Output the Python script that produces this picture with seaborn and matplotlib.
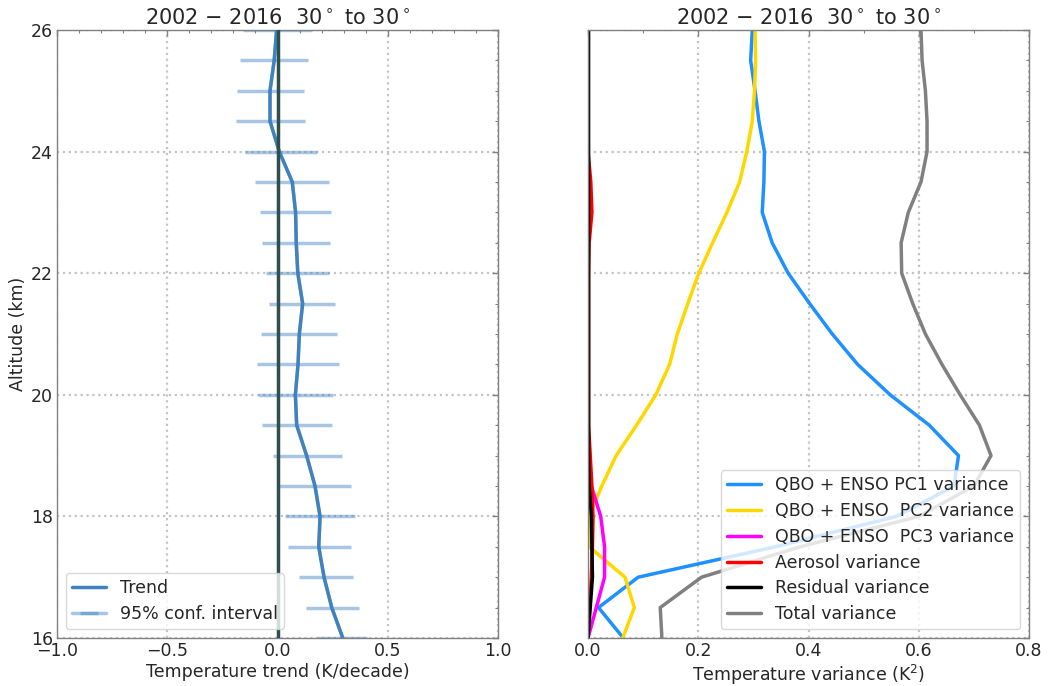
import matplotlib
matplotlib.use("Agg")
import matplotlib.pyplot as plt
from matplotlib.ticker import MultipleLocator
import numpy as np
import pandas as pd
import seaborn as sns

# Altitude levels (km)
altitude = [16.0, 16.5, 17.0, 17.5, 18.0, 18.5, 19.0, 19.5, 20.0, 20.5, 21.0,
            21.5, 22.0, 22.5, 23.0, 23.5, 24.0, 24.5, 25.0, 25.5, 26.0]

# Temperature trend (K/decade) and its 95% confidence bounds
trend = [0.296, 0.246, 0.211, 0.187, 0.193, 0.170, 0.132, 0.087, 0.081, 0.093, 0.099,
         0.114, 0.092, 0.085, 0.082, 0.067, 0.008, -0.034, -0.034, -0.015, -0.004]
ci_low = [0.178, 0.129, 0.096, 0.048, 0.034, 0.008, -0.022, -0.069, -0.087, -0.092, -0.073,
          -0.037, -0.052, -0.070, -0.079, -0.100, -0.146, -0.187, -0.182, -0.170, -0.155]
ci_high = [0.405, 0.368, 0.341, 0.332, 0.351, 0.335, 0.294, 0.249, 0.252, 0.280, 0.270,
           0.262, 0.235, 0.240, 0.244, 0.232, 0.179, 0.123, 0.120, 0.137, 0.155]

# Temperature variance (K^2) explained by each regression term
var_pc1 = [0.064, 0.019, 0.091, 0.340, 0.560, 0.664, 0.672, 0.619, 0.548, 0.489, 0.443,
           0.402, 0.363, 0.334, 0.316, 0.319, 0.320, 0.310, 0.303, 0.295, 0.298]
var_pc2 = [0.063, 0.084, 0.067, 0.002, 0.002, 0.025, 0.051, 0.088, 0.123, 0.148, 0.162,
           0.181, 0.201, 0.226, 0.252, 0.275, 0.288, 0.298, 0.302, 0.304, 0.303]
var_pc3 = [0.000, 0.015, 0.030, 0.030, 0.023, 0.006, 0.002, 0.000, 0.000, 0.000, 0.000,
           0.000, 0.000, 0.000, 0.000, 0.000, 0.000, 0.000, 0.000, 0.000, 0.000]
var_aerosol = [0.000, 0.003, 0.006, 0.008, 0.009, 0.007, 0.004, 0.001, 0.001, 0.001, 0.001,
               0.001, 0.001, 0.002, 0.007, 0.005, 0.000, 0.000, 0.000, 0.000, 0.000]
var_residual = [0.000, 0.004, 0.008, 0.007, 0.006, 0.002, 0.001, 0.001, 0.001, 0.001, 0.001,
                0.001, 0.001, 0.001, 0.001, 0.001, 0.001, 0.001, 0.001, 0.001, 0.001]
var_total = [0.134, 0.131, 0.206, 0.385, 0.600, 0.700, 0.731, 0.710, 0.675, 0.642, 0.612,
             0.589, 0.569, 0.568, 0.581, 0.604, 0.615, 0.615, 0.612, 0.606, 0.604]

var_labels = ["QBO + ENSO PC1 variance", "QBO + ENSO  PC2 variance",
              "QBO + ENSO  PC3 variance", "Aerosol variance",
              "Residual variance", "Total variance"]
var_colors = ["#1E90FF", "#FFD700", "#FF00FF", "#FF0000", "#000000", "#808080"]

title = "2002 $-$ 2016  30$^\\circ$ to 30$^\\circ$"

sns.set_style("white")
plt.rcParams["font.family"] = ["DejaVu Sans"]
plt.rcParams["text.color"] = "#262626"
plt.rcParams["axes.labelcolor"] = "#262626"
plt.rcParams["xtick.color"] = "#262626"
plt.rcParams["ytick.color"] = "#262626"

fig = plt.figure(figsize=(10.48, 6.86), dpi=100)
ax1 = fig.add_axes([0.0544, 0.070, 0.4208, 0.8863])
ax2 = fig.add_axes([0.5611, 0.070, 0.4208, 0.8863], sharey=ax1)

trend_color = "#3F82BD"

# Left panel: trend profile with confidence interval
ax1.errorbar(trend, altitude,
             xerr=[np.subtract(trend, ci_low), np.subtract(ci_high, trend)],
             color=trend_color, alpha=0.45, lw=2.5, elinewidth=2.5, capsize=0,
             label="95% conf. interval", zorder=2)
df_trend = pd.DataFrame({"trend": trend, "altitude": altitude})
sns.lineplot(data=df_trend, x="trend", y="altitude", orient="y", sort=False,
             color=trend_color, lw=2.5, label="Trend", ax=ax1, zorder=3)
ax1.axvline(0.0, color="#2F4F4F", lw=2.5, zorder=4)

ax1.set_xlim(-1.0, 1.0)
ax1.set_ylim(16, 26)
ax1.xaxis.set_major_locator(MultipleLocator(0.5))
ax1.xaxis.set_minor_locator(MultipleLocator(0.1))
ax1.set_xlabel("Temperature trend (K/decade)", fontsize=12.5, labelpad=2)
ax1.set_ylabel("Altitude (km)", fontsize=12.5, labelpad=3)
ax1.set_title(title, fontsize=15, pad=4)
h, l = ax1.get_legend_handles_labels()
order = [l.index("Trend"), l.index("95% conf. interval")]
ax1.legend([h[i] for i in order], [l[i] for i in order], loc="lower left",
           fontsize=12.5, frameon=True, framealpha=0.8, edgecolor="#d0d0d0",
           handlelength=2.0, borderpad=0.35, labelspacing=0.45)

# Right panel: variance profiles
series = [var_pc1, var_pc2, var_pc3, var_aerosol, var_residual, var_total]
for vals, lab, col in zip(series, var_labels, var_colors):
    df = pd.DataFrame({"variance": vals, "altitude": altitude})
    sns.lineplot(data=df, x="variance", y="altitude", orient="y", sort=False,
                 color=col, lw=2.5, label=lab, ax=ax2)

ax2.set_xlim(0.0, 0.8)
ax2.xaxis.set_major_locator(MultipleLocator(0.2))
ax2.xaxis.set_minor_locator(MultipleLocator(0.1))
ax2.set_xlabel("Temperature variance (K$^2$)", fontsize=12.5, labelpad=2)
ax2.set_ylabel("")
ax2.tick_params(labelleft=False)
ax2.set_title(title, fontsize=15, pad=4)
ax2.legend(loc="lower right", fontsize=12.5, frameon=True, framealpha=0.8,
           edgecolor="#d0d0d0", handlelength=2.0, borderpad=0.35,
           labelspacing=0.45)

for ax in (ax1, ax2):
    ax.yaxis.set_major_locator(MultipleLocator(2))
    ax.yaxis.set_minor_locator(MultipleLocator(0.5))
    ax.tick_params(which="both", direction="in", top=True, right=True,
                   labelsize=12.5, pad=3)
    ax.tick_params(which="major", length=4, width=1, color="#808080")
    ax.tick_params(which="minor", length=2.5, width=0.8, color="#808080")
    ax.grid(True, which="major", linestyle=":", color="#c4c4c4", lw=1.6)
    ax.set_axisbelow(True)
    for sp in ax.spines.values():
        sp.set_color("#808080")
        sp.set_linewidth(1.0)
ax1.tick_params(labelleft=True)

fig.savefig("out.png", dpi=100)
